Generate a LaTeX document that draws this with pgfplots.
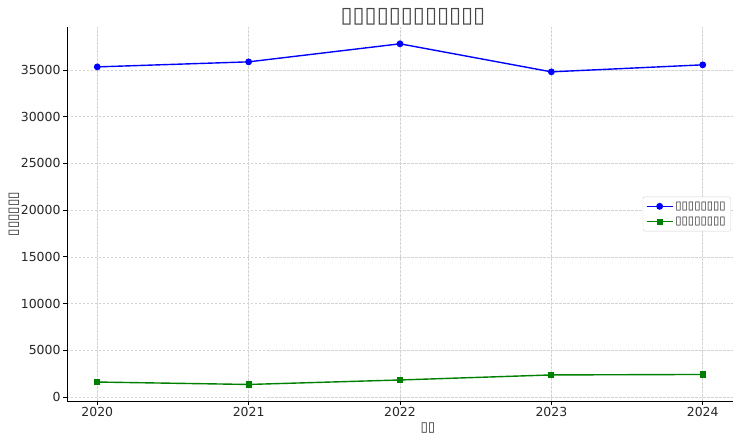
\documentclass[border=0pt]{standalone}
\usepackage{pgfplots}
\pgfplotsset{compat=1.18}
\usepackage{fontspec}
\setmainfont{DejaVu Sans}
\definecolor{gridgray}{HTML}{D3D3D3}
\definecolor{txt}{HTML}{262626}
\definecolor{mplgreen}{HTML}{008000}
% the reference shows missing-glyph boxes for every label
\begin{document}
\begin{tikzpicture}
\useasboundingbox (-67bp,-40bp) rectangle (673bp,401bp);
\begin{axis}[
  at={(0,0)}, anchor=south west,
  scale only axis,
  width=666bp, height=374bp,
  xmin=2019.8, xmax=2024.2,
  ymin=-430, ymax=39600,
  xtick={2020,2021,2022,2023,2024},
  ytick={0,5000,...,35000},
  scaled y ticks=false,
  x tick label style={/pgf/number format/1000 sep={}},
  y tick label style={/pgf/number format/1000 sep={}},
  /pgf/number format/assume math mode=true,
  tick label style={font=\fontsize{12.5}{14}\selectfont, text=txt},
  xticklabel shift=-1bp, yticklabel shift=-1bp,
  axis x line*=bottom, axis y line*=left,
  axis line style={black, line width=0.8pt},
  tick style={black, line width=0.8pt},
  tick align=outside, major tick length=4bp,
  grid=major,
  major grid style={gridgray, dash pattern=on 2.5bp off 1.5bp, line width=0.6pt},
  title={▯▯▯▯▯▯▯▯▯▯▯▯},
  title style={font=\fontsize{22}{24}\selectfont, text=txt!85, yshift=-8bp, xshift=13bp},
  xlabel={▯▯},
  ylabel={▯▯▯▯▯▯},
  label style={font=\fontsize{13.5}{15}\selectfont, text=txt},
  xlabel style={yshift=1bp, xshift=28bp},
  ylabel style={yshift=-5bp},
  legend style={at={(0.997,0.5)}, anchor=east, font=\fontsize{11.5}{14}\selectfont,
    draw=gridgray, rounded corners=2pt, row sep=2.5pt, text=txt,
    inner sep=3bp},
  legend cell align=left,
  legend image code/.code={%
    \draw[mark repeat=2, mark phase=2] plot coordinates {(0bp,0bp) (13bp,0bp) (26bp,0bp)};},
]
\addplot[blue, line width=1.4pt, mark=*, mark size=2.7pt] coordinates {
  (2020,35330) (2021,35870) (2022,37800) (2023,34800) (2024,35550)
};
\addlegendentry{▯▯▯▯▯▯▯▯}
\addplot[mplgreen, line width=1.4pt, mark=square*, mark size=2.4pt] coordinates {
  (2020,1600) (2021,1340) (2022,1820) (2023,2360) (2024,2410)
};
\addlegendentry{▯▯▯▯▯▯▯▯}
\end{axis}
\end{tikzpicture}
\end{document}
